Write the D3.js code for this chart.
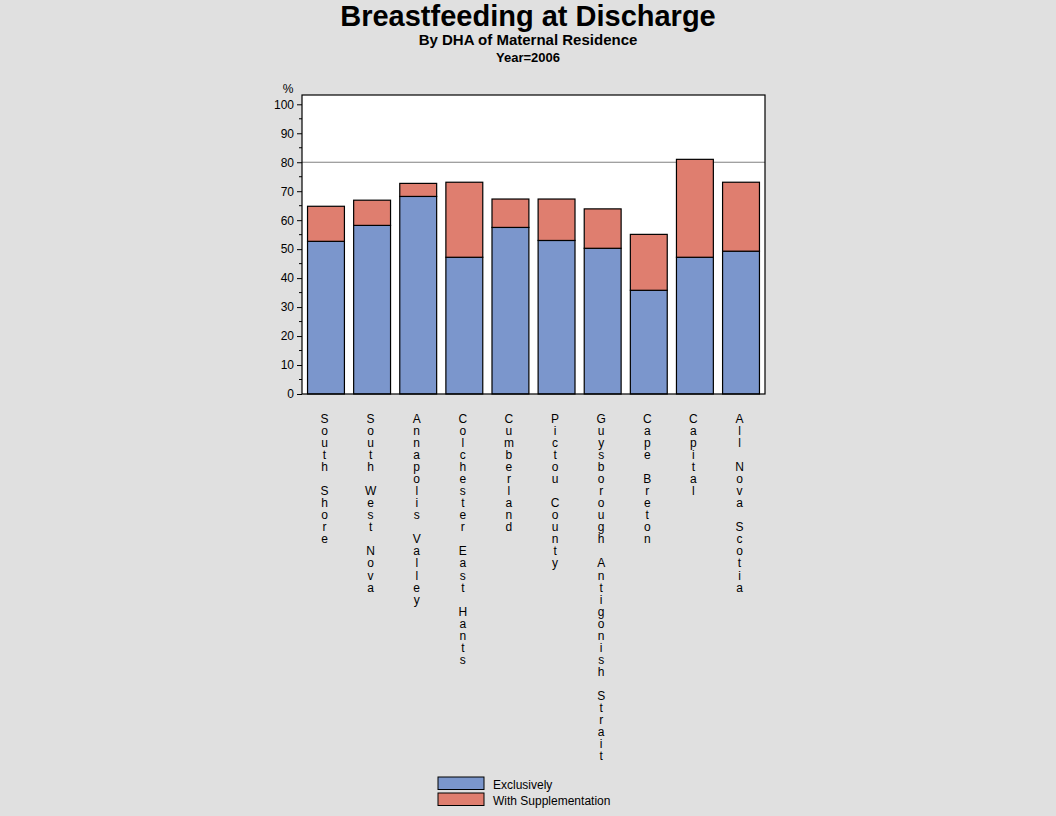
<!DOCTYPE html>
<html>
<head>
<meta charset="utf-8">
<script src="https://cdn.jsdelivr.net/npm/d3@7"></script>
<style>
  body { margin: 0; background: #e0e0e0; }
  text { font-family: "Liberation Sans", Arial, sans-serif; fill: #000; }
</style>
</head>
<body>
<svg id="chart" width="1056" height="816"></svg>
<script>
// data
var districts = ["South Shore", "South West Nova", "Annapolis Valley", "Colchester East Hants",
    "Cumberland", "Pictou County", "Guysborough Antigonish Strait", "Cape Breton", "Capital", "All Nova Scotia"];
var exclusively = [52.7, 58.2, 68.2, 47.2, 57.5, 53.0, 50.3, 35.8, 47.2, 49.3];
var supplementation = [12.1, 8.7, 4.5, 25.9, 9.8, 14.3, 13.6, 19.3, 33.8, 23.8];
var seriesNames = ["Exclusively", "With Supplementation"];
var yTicks = [0, 10, 20, 30, 40, 50, 60, 70, 80, 90, 100];
var refLine = 80;

var colors = ["#7b96cc", "#df7e6f"];

var svg = d3.select("#chart");

// plot frame (window.top is taken, so plotTop)
var plotLeft = 302, plotRight = 765, plotTop = 95, plotBottom = 394;

var x = d3.scaleBand()
    .domain(districts)
    .range([plotLeft, plotRight])
    .paddingInner(0.2)
    .paddingOuter(0.12);

var y = d3.scaleLinear()
    .domain([0, 100])
    .range([plotBottom, 104.3]);

// titles
svg.append("text").attr("x", 528).attr("y", 26).attr("text-anchor", "middle")
    .style("font-size", "29px").style("font-weight", "bold").text("Breastfeeding at Discharge");
svg.append("text").attr("x", 528).attr("y", 45).attr("text-anchor", "middle")
    .style("font-size", "15px").style("font-weight", "bold").text("By DHA of Maternal Residence");
svg.append("text").attr("x", 528).attr("y", 62).attr("text-anchor", "middle")
    .style("font-size", "13px").style("font-weight", "bold").text("Year=2006");

// plot area
svg.append("rect")
    .attr("x", plotLeft).attr("y", plotTop)
    .attr("width", plotRight - plotLeft).attr("height", plotBottom - plotTop)
    .attr("fill", "#fff");

// reference line
svg.append("line")
    .attr("x1", plotLeft).attr("x2", plotRight)
    .attr("y1", y(refLine)).attr("y2", y(refLine))
    .attr("stroke", "#808080").attr("stroke-width", 1);

// stacked bars
var rows = districts.map(function (d, i) {
    return { name: d, exclusively: exclusively[i], supplementation: supplementation[i] };
});
var stack = d3.stack().keys(["exclusively", "supplementation"])(rows);

svg.selectAll("g.series")
    .data(stack)
    .enter().append("g")
    .attr("class", "series")
    .attr("fill", function (d, i) { return colors[i]; })
    .selectAll("rect")
    .data(function (d) { return d; })
    .enter().append("rect")
    .attr("x", function (d) { return x(d.data.name); })
    .attr("width", x.bandwidth())
    .attr("y", function (d) { return y(d[1]); })
    .attr("height", function (d) { return y(d[0]) - y(d[1]); })
    .attr("stroke", "#000")
    .attr("stroke-width", 1.2);

// frame
svg.append("rect")
    .attr("x", plotLeft).attr("y", plotTop)
    .attr("width", plotRight - plotLeft).attr("height", plotBottom - plotTop)
    .attr("fill", "none").attr("stroke", "#000").attr("stroke-width", 1.2);

// y axis
var yAxis = d3.axisLeft(y).tickValues(yTicks).tickSize(5).tickPadding(3);
var gy = svg.append("g").attr("transform", "translate(" + plotLeft + ",0)").call(yAxis);
gy.select(".domain").remove();
gy.selectAll("text").style("font-size", "12px").style("font-family", "Liberation Sans, Arial, sans-serif")
    .attr("fill", "#000");
gy.selectAll("line").attr("stroke", "#000");

// minor ticks
svg.selectAll("line.minor")
    .data(d3.range(5, 100, 10))
    .enter().append("line")
    .attr("class", "minor")
    .attr("x1", plotLeft - 3).attr("x2", plotLeft)
    .attr("y1", function (d) { return y(d); })
    .attr("y2", function (d) { return y(d); })
    .attr("stroke", "#000");

svg.append("text").attr("x", 288).attr("y", 93).attr("text-anchor", "middle")
    .style("font-size", "12px").text("%");

// vertical stacked category labels
districts.forEach(function (d) {
    var t = svg.append("text")
        .attr("text-anchor", "middle")
        .style("font-size", "12px");
    d.split("").forEach(function (ch, j) {
        t.append("tspan")
            .attr("x", x(d) + x.bandwidth() / 2 - 1.5)
            .attr("y", 423 + j * 12.04)
            .text(ch === " " ? "\u00a0" : ch);
    });
});

// legend
var legend = svg.selectAll("g.legend")
    .data(seriesNames)
    .enter().append("g")
    .attr("class", "legend")
    .attr("transform", function (d, i) { return "translate(438," + (777 + i * 16) + ")"; });

legend.append("rect")
    .attr("width", 46).attr("height", 12.5)
    .attr("fill", function (d, i) { return colors[i]; })
    .attr("stroke", "#000").attr("stroke-width", 1);

legend.append("text")
    .attr("x", 55).attr("y", 12)
    .style("font-size", "12px")
    .text(function (d) { return d; });
</script>
</body>
</html>
